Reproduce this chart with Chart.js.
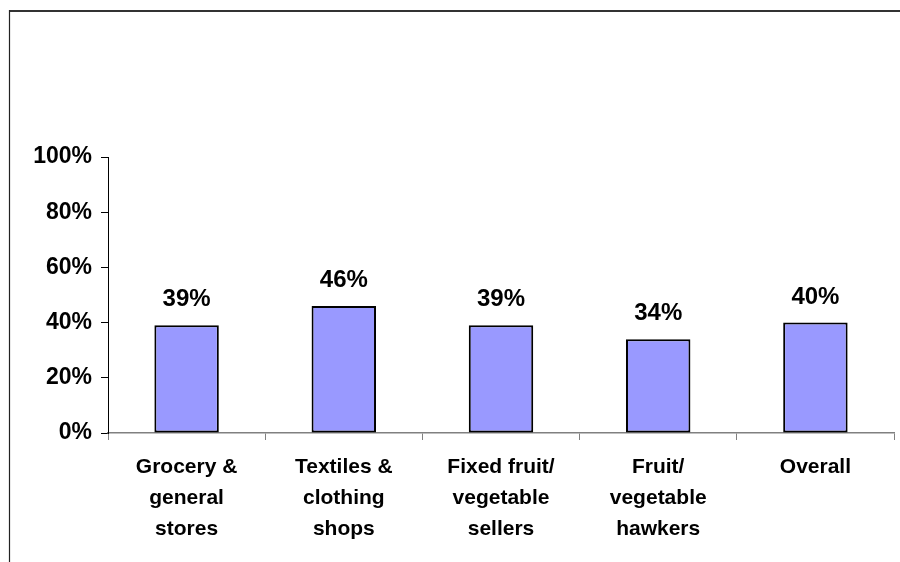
<!DOCTYPE html>
<html>
<head>
<meta charset="utf-8">
<script src="https://cdn.jsdelivr.net/npm/chart.js@4"></script>
<style>
  html, body { margin: 0; padding: 0; background: #fff; }
  #wrap { width: 900px; height: 562px; position: relative; }
</style>
</head>
<body>
<div id="wrap"><canvas id="chart" width="900" height="562"></canvas></div>
<script>
const categories = [
  ['Grocery &', 'general', 'stores'],
  ['Textiles &', 'clothing', 'shops'],
  ['Fixed fruit/', 'vegetable', 'sellers'],
  ['Fruit/', 'vegetable', 'hawkers'],
  ['Overall']
];
const shares = [39, 46, 39, 34, 40];
const yTicks = [0, 20, 40, 60, 80, 100];

const FONT = 'Arial, "Liberation Sans", sans-serif';

// outer frame (only left and top edges are visible in the picture)
const framePlugin = {
  id: 'frame',
  beforeDraw(chart) {
    const c = chart.ctx;
    c.save();
    c.strokeStyle = '#333';
    c.lineWidth = 2;
    c.beginPath();
    c.moveTo(9, 11);
    c.lineTo(900, 11);
    c.stroke();
    c.lineWidth = 1.2;
    c.strokeStyle = '#222';
    c.beginPath();
    c.moveTo(9.5, 10);
    c.lineTo(9.5, 562);
    c.stroke();
    c.restore();
  }
};

// value labels above each bar
const valueLabels = {
  id: 'valueLabels',
  afterDatasetsDraw(chart) {
    const c = chart.ctx;
    const meta = chart.getDatasetMeta(0);
    c.save();
    c.font = 'bold 24px ' + FONT;
    c.fillStyle = '#000';
    c.textAlign = 'center';
    c.textBaseline = 'alphabetic';
    meta.data.forEach((bar, i) => {
      c.fillText(shares[i] + '%', bar.x, bar.y - 19);
    });
    c.restore();
  }
};

new Chart(document.getElementById('chart').getContext('2d'), {
  type: 'bar',
  data: {
    labels: categories,
    datasets: [{
      data: shares,
      backgroundColor: '#9999FF',
      borderColor: '#000',
      borderWidth: 2,
      borderSkipped: false,
      categoryPercentage: 1,
      barPercentage: 0.41
    }]
  },
  options: {
    responsive: false,
    animation: false,
    events: [],
    layout: { padding: { left: 0, right: 6, top: 157, bottom: 0 } },
    plugins: { legend: { display: false }, tooltip: { enabled: false } },
    scales: {
      x: {
        grid: { display: true, drawOnChartArea: false, drawTicks: true, tickLength: 7, color: '#808080', offset: true },
        border: { display: true, color: '#808080', width: 1.5 },
        ticks: {
          color: '#000',
          font: { family: FONT, size: 21, weight: 'bold', lineHeight: 1.48 },
          padding: 12,
          maxRotation: 0,
          autoSkip: false
        },
        afterFit(scale) { scale.height = 129; }
      },
      y: {
        min: 0,
        max: 100,
        afterBuildTicks(scale) { scale.ticks = yTicks.map(v => ({ value: v })); },
        grid: { display: true, drawOnChartArea: false, drawTicks: true, tickLength: 7, color: '#000' },
        border: { display: true, color: '#000', width: 1 },
        ticks: {
          color: '#000',
          font: { family: FONT, size: 23, weight: 'bold' },
          padding: 9,
          callback: v => v + '%'
        },
        afterFit(scale) { scale.width = 108; }
      }
    }
  },
  plugins: [framePlugin, valueLabels]
});
</script>
</body>
</html>
